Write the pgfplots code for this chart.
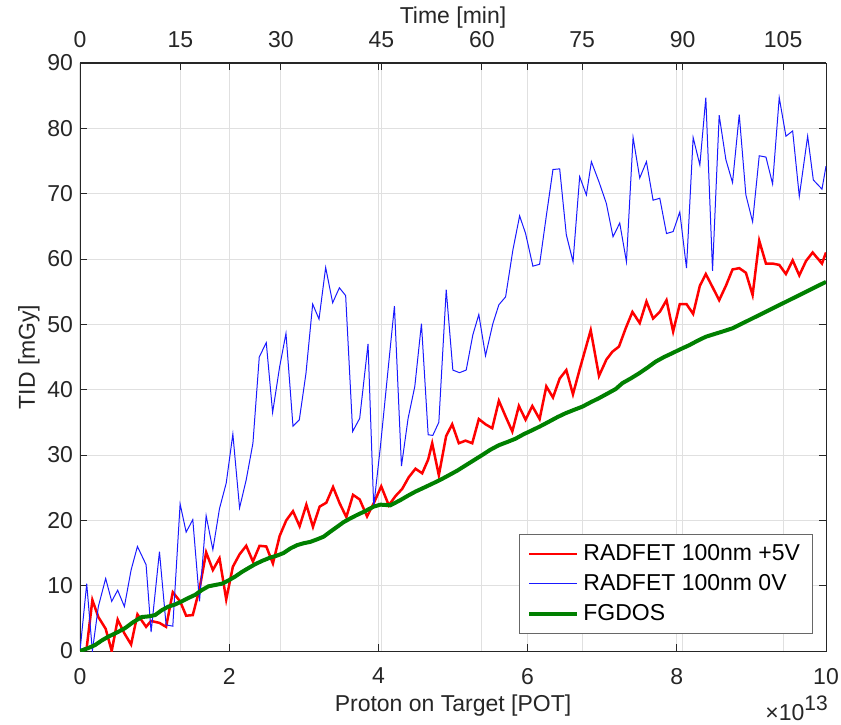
\documentclass[border=0pt]{standalone}
\usepackage{pgfplots}
\pgfplotsset{compat=1.18}
\usepackage{fontspec}
\setmainfont{Liberation Sans}

\definecolor{axgray}{gray}{0.15}
\definecolor{gridgray}{gray}{0.88}
\definecolor{mblue}{rgb}{0.1,0.1,1}
\definecolor{mgreen}{rgb}{0,0.5,0}

\pgfplotsset{
  common/.style={
    width=373pt, height=294pt, scale only axis,
    at={(0,0)}, anchor=south west,
    /pgf/number format/assume math mode=true,
    tick label style={font=\fontsize{11.5}{14}\selectfont, text=axgray},
    major tick length=3.5pt,
    tick style={axgray, line width=0.4pt},
    axis line style={axgray, line width=0.5pt},
    grid style={gridgray, line width=0.5pt},
  }
}

\begin{document}
\begin{tikzpicture}[font=\fontsize{11.5}{14}\selectfont]
\useasboundingbox (-40pt,-36.5pt) rectangle (380.5pt,325.5pt);

% top axis: time
\begin{axis}[common,
  xmin=0, xmax=111.4, ymin=0, ymax=1,
  axis x line*=top, hide y axis,
  xtick={0,15,...,105}, xmajorgrids,
  xticklabel style={yshift=4pt}]
\end{axis}

% main axis
\begin{axis}[common,
  xmin=0, xmax=10, ymin=0, ymax=90,
  xtick={0,2,...,10}, ytick={0,10,...,90},
  xticklabel style={yshift=-5pt},
  grid=major, clip mode=individual,
  legend style={at={(0.982,0.029)}, anchor=south east,
    draw=axgray!70, line width=0.5pt, fill=white,
    font=\fontsize{11.5}{14}\selectfont, text=black,
    inner xsep=4pt, inner ysep=3pt, row sep=1.5pt},
  legend cell align=left,
  legend image code/.code={\draw[#1] (0pt,0pt) -- (24pt,0pt);}]

\addplot[red, line width=1.25pt] coordinates {
(0,0) (0.090,0.5) (0.166,7.8) (0.246,5.2) (0.344,3.4) (0.425,0) (0.505,4.8)
(0.595,2.7) (0.685,1.0) (0.770,5.6) (0.886,3.7) (0.953,4.6) (1.065,4.3)
(1.154,3.7) (1.244,9.0) (1.342,7.6) (1.423,5.4) (1.512,5.5) (1.602,9.5)
(1.691,15.1) (1.781,12.4) (1.870,14.2) (1.960,7.9) (2.049,12.9) (2.139,14.8)
(2.228,16.1) (2.318,13.7) (2.407,16.1) (2.497,16.0) (2.586,13.4) (2.676,17.6)
(2.765,20.0) (2.855,21.4) (2.944,19.1) (3.034,22.4) (3.123,19.0) (3.212,22.1)
(3.302,22.7) (3.392,25.1) (3.481,22.6) (3.570,20.5) (3.660,23.9) (3.749,23.2)
(3.848,20.6) (3.937,22.6) (4.038,25.2) (4.139,22.3) (4.228,23.7) (4.318,24.8)
(4.407,26.6) (4.497,27.9) (4.587,27.2) (4.667,29.3) (4.721,31.8) (4.810,26.9)
(4.908,32.9) (4.989,34.7) (5.078,31.8) (5.168,32.2) (5.258,31.8) (5.346,35.5)
(5.436,34.7) (5.526,34.1) (5.615,38.3) (5.705,35.9) (5.795,33.6) (5.883,37.5)
(5.973,35.4) (6.063,37.5) (6.161,35.5) (6.251,40.5) (6.340,38.8) (6.430,41.7)
(6.519,43.0) (6.608,39.3) (6.698,43.1) (6.846,49.1) (6.957,42.1) (7.056,44.6)
(7.136,45.8) (7.225,46.6) (7.315,49.4) (7.405,51.9) (7.503,50.2) (7.593,53.5)
(7.682,50.9) (7.772,51.9) (7.862,53.7) (7.951,48.9) (8.040,53.1) (8.130,53.1)
(8.219,51.6) (8.309,55.9) (8.389,57.7) (8.479,55.7) (8.568,53.7) (8.658,55.9)
(8.747,58.4) (8.837,58.6) (8.926,57.9) (9.016,54.5) (9.105,62.8) (9.195,59.3)
(9.284,59.3) (9.373,59.1) (9.463,57.7) (9.553,59.8) (9.642,57.5) (9.732,59.7)
(9.821,61.0) (9.946,59.3) (10.0,61.0)
};
\addlegendentry{RADFET 100nm +5V}

\addplot[mblue, line width=0.5pt] coordinates {
(0,0) (0.090,10.3) (0.166,0) (0.246,6.8) (0.344,11.1) (0.425,7.6) (0.505,9.3)
(0.595,6.8) (0.685,12.4) (0.770,16.0) (0.886,13.2) (0.953,2.9) (1.065,15.2)
(1.154,4.0) (1.244,3.8) (1.342,22.5) (1.423,18.2) (1.512,20.1) (1.602,7.6)
(1.691,20.7) (1.781,15.5) (1.870,21.8) (1.960,25.7) (2.049,33.2) (2.139,21.9)
(2.228,26.2) (2.318,31.8) (2.403,45.0) (2.497,47.2) (2.582,36.5) (2.676,43.5)
(2.761,48.6) (2.855,34.4) (2.940,35.4) (3.029,42.5) (3.119,53.1) (3.204,50.8)
(3.293,58.7) (3.387,53.3) (3.477,55.6) (3.561,54.4) (3.655,33.6) (3.749,35.6)
(3.861,47.0) (3.937,22.1) (4.027,31.3) (4.116,41.5) (4.215,52.8) (4.309,28.3)
(4.398,35.6) (4.488,40.5) (4.577,50.1) (4.667,33.1) (4.729,33.0) (4.810,35.0)
(4.909,55.3) (4.998,43.0) (5.087,42.6) (5.177,43.0) (5.266,48.4) (5.346,51.5)
(5.436,45.2) (5.534,50.1) (5.615,53.0) (5.705,54.2) (5.803,61.4) (5.893,66.6)
(5.973,63.9) (6.071,58.9) (6.161,59.2) (6.251,66.6) (6.340,73.7) (6.430,73.8)
(6.519,63.7) (6.609,59.6) (6.698,72.6) (6.788,69.8) (6.855,74.9) (6.957,71.8)
(7.056,68.5) (7.145,63.4) (7.235,65.5) (7.325,59.6) (7.414,78.6) (7.503,72.4)
(7.593,74.9) (7.682,69.0) (7.772,69.3) (7.862,63.9) (7.951,64.2) (8.040,67.2)
(8.130,58.6) (8.219,78.6) (8.309,74.4) (8.389,84.7) (8.479,58.2) (8.568,82.0)
(8.658,75.2) (8.747,71.7) (8.837,82.1) (8.926,69.8) (9.016,65.7) (9.105,75.8)
(9.195,75.6) (9.284,71.5) (9.373,84.7) (9.463,78.8) (9.553,79.6) (9.642,69.6)
(9.754,78.8) (9.830,72.1) (9.946,70.7) (10.0,74.2)
};
\addlegendentry{RADFET 100nm 0V}

\addplot[mgreen, line width=2pt] coordinates {
(0,0) (0.100,0.4) (0.201,0.9) (0.290,1.6) (0.380,2.2) (0.490,2.8) (0.604,3.5)
(0.710,4.4) (0.828,5.2) (0.920,5.3) (1.007,5.5) (1.090,6.2) (1.185,6.8)
(1.270,7.1) (1.365,7.6) (1.450,8.1) (1.544,8.6) (1.630,9.3) (1.722,9.9)
(1.810,10.1) (1.902,10.3) (1.990,10.8) (2.081,11.4) (2.170,12.1) (2.259,12.7)
(2.350,13.3) (2.443,13.8) (2.550,14.3) (2.640,14.6) (2.729,15.0) (2.820,15.7)
(2.909,16.2) (3.000,16.5) (3.087,16.7) (3.180,17.1) (3.266,17.5) (3.360,18.3)
(3.446,19.0) (3.530,19.7) (3.624,20.3) (3.710,20.8) (3.803,21.3) (3.937,22.1)
(4.027,22.4) (4.161,22.3) (4.295,23.1) (4.400,23.8) (4.497,24.4) (4.610,25.0)
(4.721,25.6) (4.830,26.2) (4.944,26.9) (5.056,27.6) (5.168,28.4) (5.280,29.2)
(5.392,30.0) (5.500,30.8) (5.615,31.5) (5.730,32.0) (5.839,32.5) (5.950,33.2)
(6.063,33.8) (6.170,34.4) (6.286,35.1) (6.400,35.8) (6.510,36.4) (6.620,36.9)
(6.734,37.4) (6.850,38.1) (6.957,38.7) (7.070,39.4) (7.181,40.1) (7.271,41.0)
(7.380,41.7) (7.494,42.5) (7.610,43.4) (7.718,44.3) (7.830,45.0) (7.942,45.6)
(8.050,46.2) (8.165,46.8) (8.280,47.5) (8.389,48.1) (8.500,48.5) (8.613,48.9)
(8.748,49.4) (10.0,56.5)
};
\addlegendentry{FGDOS}

\node[text=axgray] at (rel axis cs:0.5,-0.0935) {Proton on Target [POT]};
\node[text=axgray, rotate=90] at (rel axis cs:-0.0684,0.5) {TID [mGy]};
\node[text=axgray] at (rel axis cs:0.5,1.0765) {Time [min]};
\node[text=axgray, anchor=base east, inner sep=0pt] at (rel axis cs:1.003,-0.119)
  {×10\raisebox{5pt}{\fontsize{10.5}{12}\selectfont 13}};
\end{axis}
\end{tikzpicture}
\end{document}
